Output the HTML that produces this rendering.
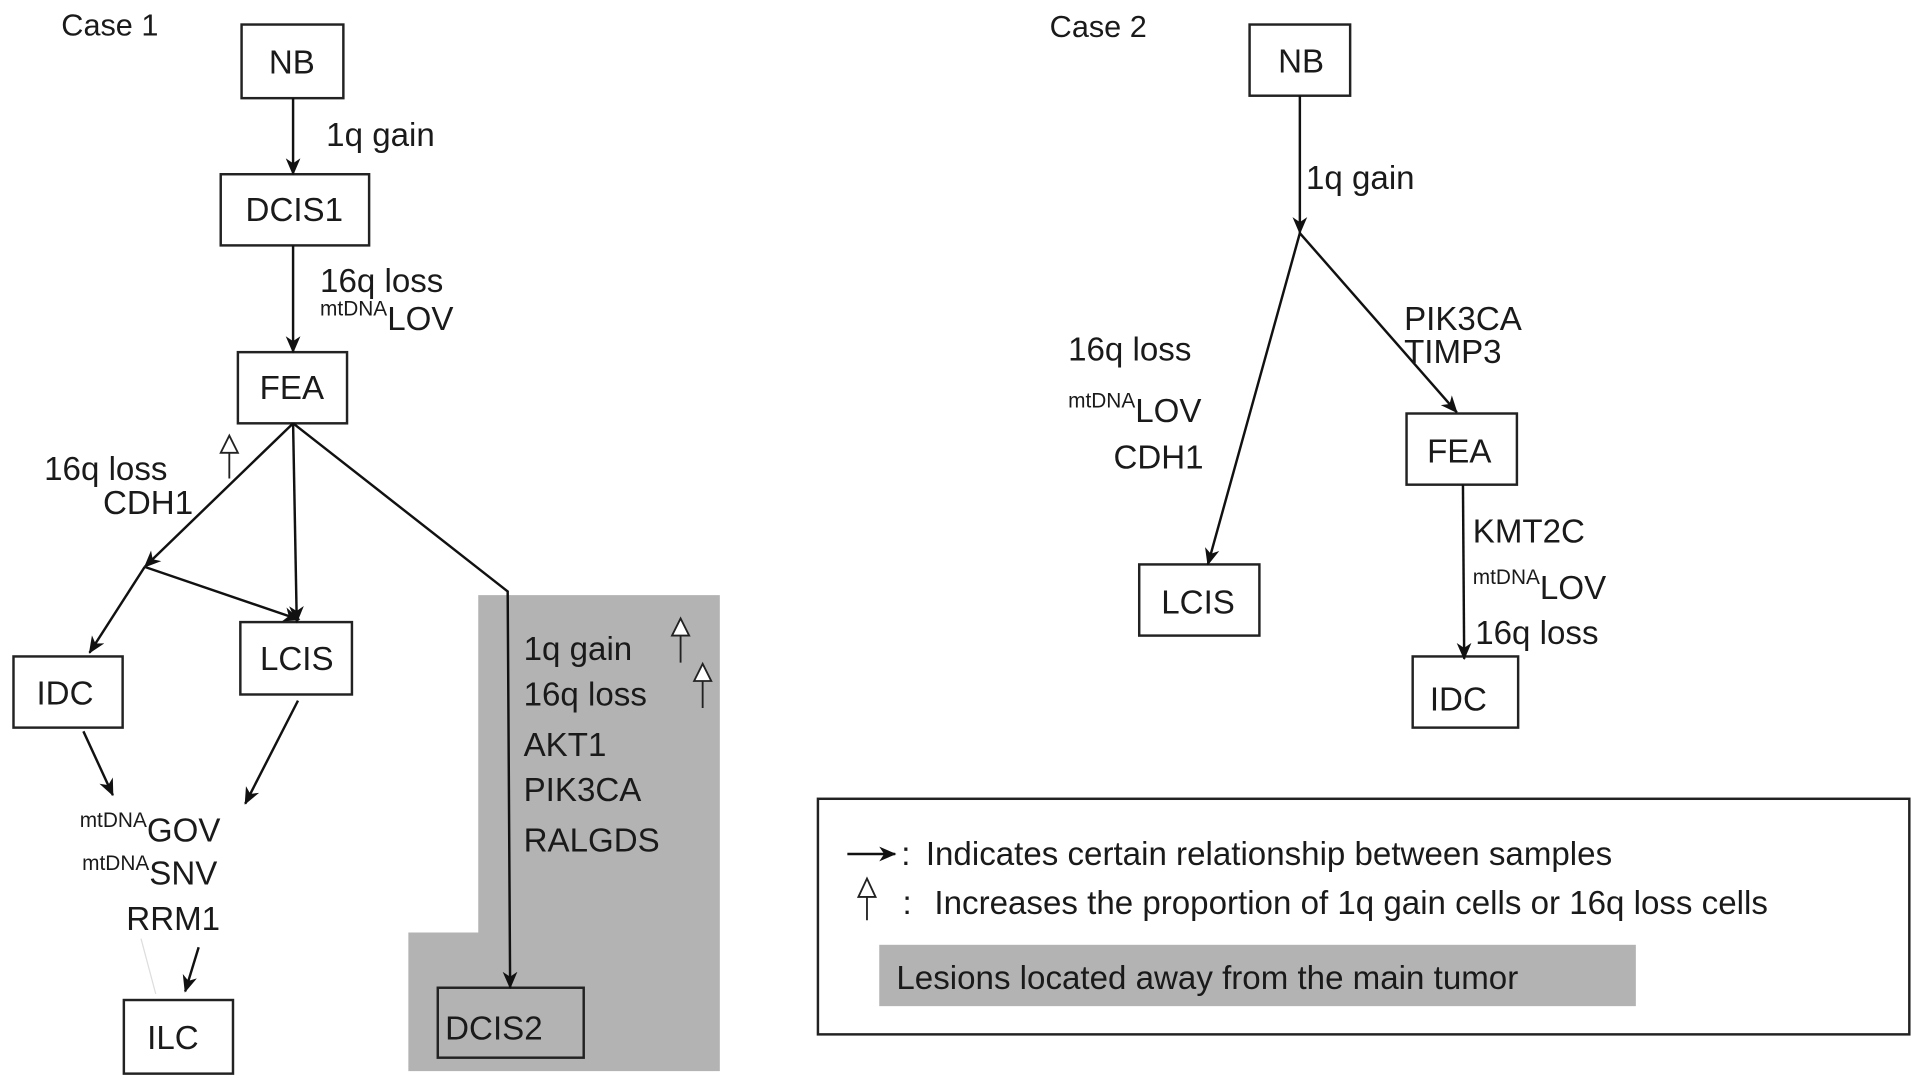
<!DOCTYPE html>
<html><head><meta charset="utf-8"><style>html,body{margin:0;padding:0;background:#fff}svg{display:block}</style></head>
<body>
<svg width="1913" height="1081" viewBox="0 0 1560 881" preserveAspectRatio="none" xmlns="http://www.w3.org/2000/svg" font-family="Liberation Sans, sans-serif" fill="#1a1a1a">
<defs>
<marker id="b" markerWidth="14" markerHeight="14" refX="13" refY="7" orient="auto" markerUnits="userSpaceOnUse" viewBox="0 0 14 14"><path d="M0,1 L14,7 L0,13 L4,7 z" fill="#111"/></marker>
</defs>
<polygon points="390,485 587,485 587,873 333,873 333,760 390,760" fill="#b3b3b3"/>
<g fill="none" stroke="#222" stroke-width="2">
<rect x="197" y="20" width="83" height="60"/>
<rect x="180" y="142" width="121" height="58"/>
<rect x="194" y="287" width="89" height="58"/>
<rect x="196" y="507" width="91" height="59"/>
<rect x="11" y="535" width="89" height="58"/>
<rect x="101" y="815" width="89" height="60"/>
<rect x="357" y="805" width="119" height="57"/>
<rect x="1019" y="20" width="82" height="58"/>
<rect x="929" y="460" width="98" height="58"/>
<rect x="1147" y="337" width="90" height="58"/>
<rect x="1152" y="535" width="86" height="58"/>
<rect x="667" y="651" width="890" height="192"/>
</g>
<rect x="717" y="770" width="617" height="50" fill="#b3b3b3"/>
<g stroke="#111" stroke-width="2" fill="none">
<line x1="239" y1="80" x2="239" y2="142" marker-end="url(#b)"/>
<line x1="239" y1="200" x2="239" y2="287" marker-end="url(#b)"/>
<line x1="239" y1="345" x2="118" y2="462" marker-end="url(#b)"/>
<line x1="118" y1="462" x2="73" y2="532" marker-end="url(#b)"/>
<line x1="118" y1="462" x2="244" y2="505" marker-end="url(#b)"/>
<line x1="239" y1="345" x2="242" y2="507" marker-end="url(#b)"/>
<polyline points="239,345 414,482 416,805" marker-end="url(#b)"/>
<line x1="68" y1="596" x2="92" y2="648" marker-end="url(#b)"/>
<line x1="243" y1="571" x2="200" y2="655" marker-end="url(#b)"/>
<line x1="162" y1="772" x2="151" y2="808" marker-end="url(#b)"/>
<line x1="1060" y1="78" x2="1060" y2="190" marker-end="url(#b)"/>
<line x1="1060" y1="190" x2="985" y2="460" marker-end="url(#b)"/>
<line x1="1060" y1="190" x2="1188" y2="336" marker-end="url(#b)"/>
<line x1="1193" y1="395" x2="1194" y2="537" marker-end="url(#b)"/>
<line x1="691" y1="696" x2="730" y2="696" marker-end="url(#b)"/>
</g>
<line x1="115" y1="765" x2="127" y2="810" stroke="#ddd" stroke-width="1"/>
<g fill="#fff" stroke="#222" stroke-width="1.5">
<path d="M187,390 L187,369 M180,369 L187,355 L194,369 Z"/>
<path d="M555,540 L555,518 M548,518 L555,504 L562,518 Z"/>
<path d="M573,577 L573,555 M566,555 L573,541 L580,555 Z"/>
<path d="M707,750 L707,731 M700,731 L707,716 L714,731 Z"/>
</g>
<g font-size="27">
<text x="50" y="29" font-size="25">Case 1</text>
<text x="856" y="30" font-size="25">Case 2</text>
<text x="238" y="60" text-anchor="middle">NB</text>
<text x="240" y="180" text-anchor="middle">DCIS1</text>
<text x="238" y="325" text-anchor="middle">FEA</text>
<text x="242" y="546" text-anchor="middle">LCIS</text>
<text x="53" y="574" text-anchor="middle">IDC</text>
<text x="141" y="855" text-anchor="middle">ILC</text>
<text x="363" y="847">DCIS2</text>
<text x="1061" y="59" text-anchor="middle">NB</text>
<text x="977" y="500" text-anchor="middle">LCIS</text>
<text x="1190" y="377" text-anchor="middle">FEA</text>
<text x="1166" y="579">IDC</text>
<text x="266" y="119">1q gain</text>
<text x="261" y="238">16q loss</text>
<text x="261" y="269"><tspan font-size="17" dy="-12">mtDNA</tspan><tspan dy="12">LOV</tspan></text>
<text x="36" y="391">16q loss</text>
<text x="84" y="419">CDH1</text>
<text x="65" y="686"><tspan font-size="17" dy="-12">mtDNA</tspan><tspan dy="12">GOV</tspan></text>
<text x="67" y="721"><tspan font-size="17" dy="-12">mtDNA</tspan><tspan dy="12">SNV</tspan></text>
<text x="103" y="758">RRM1</text>
<text x="427" y="538">1q gain</text>
<text x="427" y="575">16q loss</text>
<text x="427" y="616">AKT1</text>
<text x="427" y="653">PIK3CA</text>
<text x="427" y="694">RALGDS</text>
<text x="1065" y="154">1q gain</text>
<text x="871" y="294">16q loss</text>
<text x="871" y="344"><tspan font-size="17" dy="-12">mtDNA</tspan><tspan dy="12">LOV</tspan></text>
<text x="908" y="382">CDH1</text>
<text x="1145" y="269">PIK3CA</text>
<text x="1145" y="296">TIMP3</text>
<text x="1201" y="442">KMT2C</text>
<text x="1201" y="488"><tspan font-size="17" dy="-12">mtDNA</tspan><tspan dy="12">LOV</tspan></text>
<text x="1203" y="525">16q loss</text>
<text x="735" y="705">:</text>
<text x="755" y="705">Indicates certain relationship between samples</text>
<text x="736" y="745">:</text>
<text x="762" y="745">Increases the proportion of 1q gain cells or 16q loss cells</text>
<text x="731" y="806">Lesions located away from the main tumor</text>
</g>
</svg>
</body></html>
